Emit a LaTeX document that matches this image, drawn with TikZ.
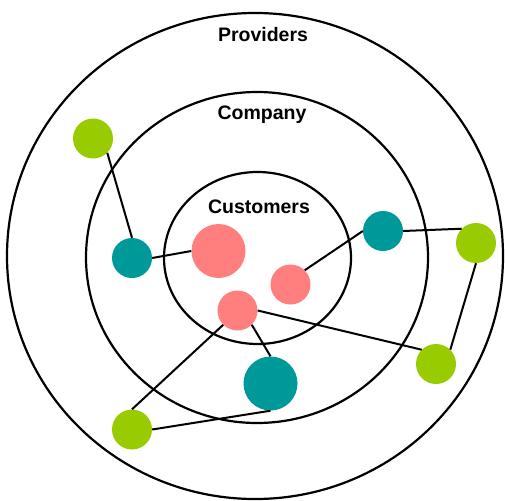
\documentclass[tikz,border=0pt]{standalone}
\usepackage{fontspec}
\setmainfont{Liberation Sans}
\definecolor{tealc}{HTML}{009999}
\definecolor{pinkc}{HTML}{FF7F7F}
\definecolor{greenc}{HTML}{99CC00}
\begin{document}
\begin{tikzpicture}[x=1pt,y=-1pt,
  ring/.style={draw=black,line width=2.2pt},
  blob/.style={circle,inner sep=0pt,draw=none,minimum size=40pt},
  bigblob/.style={blob,minimum size=54pt},
  link/.style={draw=black,line width=2pt},
  lbl/.style={font=\bfseries\fontsize{19.5}{22}\selectfont,inner sep=0pt}]
\useasboundingbox (0,0) rectangle (505,500);
\draw[ring] (255,256) ellipse [x radius=248, y radius=243];
\draw[ring] (257,257.5) ellipse [x radius=171, y radius=165.5];
\draw[ring] (257.5,258) ellipse [x radius=93.5, y radius=86];
\node[lbl] (prov) at (263,35) {Providers};
\node[lbl] (comp) at (262,115) {Company};
\node[lbl] (cust) at (259,207) {Customers};
% nodes
\node[blob,fill=greenc] (gtl) at (93,138.5) {};
\node[blob,fill=tealc] (tl) at (132,258) {};
\node[bigblob,fill=pinkc] (pbig) at (218.5,251) {};
\node[blob,fill=pinkc] (ps) at (290.5,284.5) {};
\node[blob,fill=pinkc] (pl) at (237.5,310.5) {};
\node[bigblob,fill=tealc] (tbig) at (270.5,383.5) {};
\node[blob,fill=greenc] (gbl) at (132,429.5) {};
\node[blob,fill=greenc] (grb) at (436,364) {};
\node[blob,fill=greenc] (gr) at (476,243) {};
\node[blob,fill=tealc] (tr) at (383,231) {};
% links
\draw[link] (gtl.south east) -- (tl.north);
\draw[link] (tl.east) -- (pbig.west);
\draw[link] (ps.north east) -- (tr.west);
\draw[link] (tr.east) -- (gr.north west);
\draw[link] (gr.south) -- (grb.north east);
\draw[link] (pl.east) -- (grb.north west);
\draw[link] (pl.south east) -- (tbig.north);
\draw[link] (pl.south west) -- (gbl.north);
\draw[link] (gbl.east) -- (tbig.south);
\end{tikzpicture}
\end{document}
